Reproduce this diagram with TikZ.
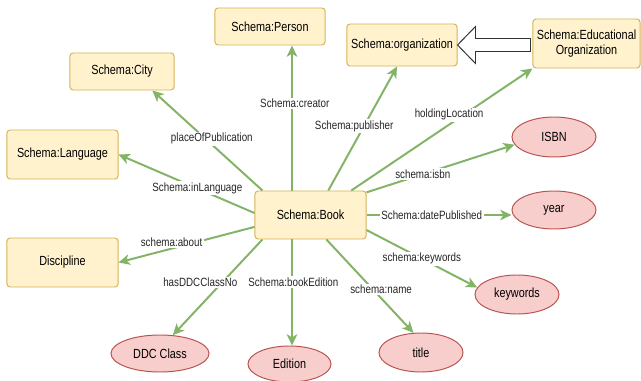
\documentclass[tikz,border=0pt]{standalone}
\usepackage{fontspec}
\setmainfont{Liberation Sans}[FakeStretch=0.82]
\usetikzlibrary{shapes.geometric,arrows.meta,calc}
\definecolor{boxfill}{HTML}{FFF2CC}
\definecolor{boxline}{HTML}{D6B656}
\definecolor{ellfill}{HTML}{F8CECC}
\definecolor{ellline}{HTML}{B85450}
\definecolor{edgegreen}{HTML}{82B366}
\tikzset{
  box/.style={draw=boxline, fill=boxfill, rounded corners=2.2pt, line width=0.7pt,
    align=center, inner sep=1pt, font=\fontsize{9.4}{10.5}\selectfont},
  ell/.style={draw=ellline, fill=ellfill, ellipse, line width=0.7pt, inner sep=0pt,
    minimum width=2.1cm, font=\fontsize{9.4}{10.5}\selectfont},
  edge/.style={draw=edgegreen, line width=1.4pt,
    -{Stealth[length=8pt,width=7.5pt,inset=2.2pt]}},
  lbl/.style={fill=white, inner sep=1pt, font=\fontsize{8.5}{9.5}\selectfont, text=black!85},
  hollow/.style={draw=black!80, fill=white, line width=0.7pt, line join=miter}
}
\begin{document}
\begin{tikzpicture}[x=0.025cm,y=-0.025cm]
\useasboundingbox (0,0) rectangle (641,381);

% nodes
\node[box, minimum width=2.75cm,  minimum height=0.925cm] (person) at (270,26.5) {Schema:Person};
\node[box, minimum width=2.6cm,   minimum height=0.925cm] (city) at (122,71.5) {Schema:City};
\node[box, minimum width=2.775cm, minimum height=1.225cm] (language) at (62.5,154.5) {Schema:Language};
\node[box, minimum width=2.775cm, minimum height=1.225cm] (discipline) at (62.5,262.5) {Discipline};
\node[box, minimum width=2.75cm,  minimum height=1.05cm]  (org) at (402,45) {Schema:organization};
\node[box, minimum width=2.675cm, minimum height=1.225cm] (edu) at (586.5,43.5) {Schema:Educational\\Organization};
\node[box, minimum width=2.775cm, minimum height=1.2cm]   (book) at (310.5,215) {Schema:Book};

\node[ell, minimum height=1.0cm]   (isbn) at (554,137) {ISBN};
\node[ell, minimum height=0.95cm]  (year) at (554,210) {year};
\node[ell, minimum height=0.975cm] (keywords) at (517,294.5) {keywords};
\node[ell, minimum height=0.975cm] (title) at (421,352.5) {title};
\node[ell, minimum width=2.45cm, minimum height=0.925cm] (ddc) at (160,353.5) {DDC Class};
\node[ell, minimum width=2.075cm, minimum height=0.9cm] (edition) at (289.5,364) {Edition};

% inheritance arrow
\coordinate (tail) at ($(edu.west |- org.east)+(-2,0)$);
\draw[hollow] (org.east) -- ++(18,-18.5) -- ++(0,12) -- ($(tail)+(0,-6.5)$)
  -- ($(tail)+(0,6.5)$) -- ($(org.east)+(18,6.5)$) -- ($(org.east)+(18,18.5)$) -- cycle;

% edges
\coordinate (vx) at ($(book.north)+(-18.5,0)$);
\draw[edge] (book.153) -- node[lbl, pos=0.46, yshift=4pt] {placeOfPublication} (city.328);
\draw[edge] (book.178) -- node[lbl, pos=0.42] {Schema:inLanguage} (language.east);
\draw[edge] (vx) -- node[lbl, pos=0.6, xshift=2pt] {Schema:creator} (vx |- person.south);
\draw[edge] (book.54) -- node[lbl, pos=0.52, xshift=-7pt] {Schema:publisher} (org.257);
\draw[edge] (book.31) -- node[lbl, pos=0.54, yshift=7pt] {holdingLocation} (edu.south west);
\draw[edge] (book.22) -- node[lbl, pos=0.38] {schema:isbn} (isbn.191);
\draw[edge] (book.east) -- node[lbl, pos=0.45] {Schema:datePublished} (book.east -| year.west);
\draw[edge] (book.345) -- node[lbl, pos=0.5] {schema:keywords} (keywords.170);
\draw[edge] (book.303) -- node[lbl, pos=0.58, xshift=3pt, yshift=3pt] {schema:name} (title.111);
\draw[edge] (vx |- book.south) -- node[lbl, pos=0.4, xshift=1pt] {Schema:bookEdition} (vx |- edition.north);
\draw[edge] (book.207) -- node[lbl, pos=0.45, xshift=-15.5pt] {hasDDCClassNo} (ddc.55);
\draw[edge] (book.192) -- node[lbl, pos=0.61, yshift=4.3pt] {schema:about} (discipline.east);
\end{tikzpicture}
\end{document}
